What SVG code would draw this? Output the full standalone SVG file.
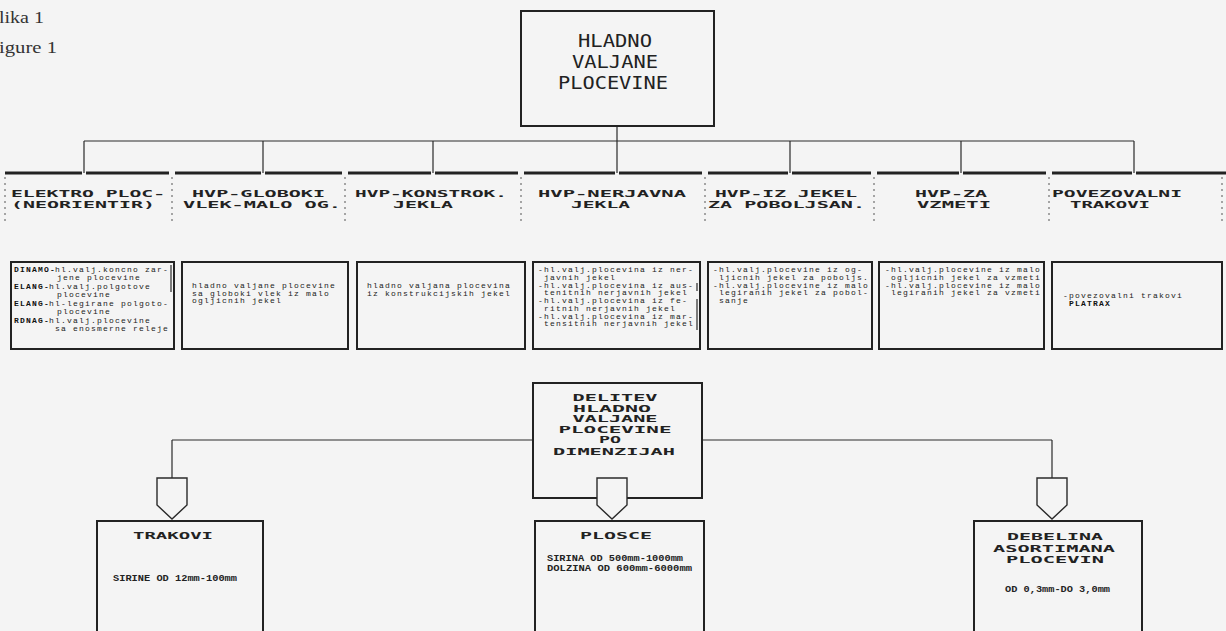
<svg xmlns="http://www.w3.org/2000/svg" width="1226" height="631" viewBox="0 0 1226 631">
<style>
.ln{stroke:#2a2a2a;stroke-width:1.2;fill:none}
.bar{stroke:#222;stroke-width:3.2;fill:none}
.dot{stroke:#555;stroke-width:1;stroke-dasharray:2 4;fill:none}
.box{stroke:#222;stroke-width:2;fill:none}
.pent{stroke:#2a2a2a;stroke-width:1.4;fill:#f4f4f4}
.cap{font-family:"Liberation Serif",serif;font-size:17px;fill:#333}
.big{font-family:"DejaVu Sans Mono",monospace;font-size:18px;fill:#222;text-anchor:middle}
.hd{font-family:"DejaVu Sans Mono",monospace;font-size:9.5px;font-weight:bold;fill:#222}
.hc{font-family:"DejaVu Sans Mono",monospace;font-size:9.5px;font-weight:bold;fill:#222;text-anchor:middle}
.tx{font-family:"Liberation Mono",monospace;font-size:8px;letter-spacing:1.2px;fill:#222}
.tb{font-family:"Liberation Mono",monospace;font-size:8px;letter-spacing:1.2px;font-weight:bold;fill:#111}
.sm{font-family:"Liberation Mono",monospace;font-size:8.5px;font-weight:bold;fill:#222}
</style>
<rect width="1226" height="631" fill="#f4f4f4"/>
<text class="cap" x="-1" y="23" textLength="45" lengthAdjust="spacingAndGlyphs">lika 1</text>
<text class="cap" x="-1" y="53" textLength="58" lengthAdjust="spacingAndGlyphs">igure 1</text>

<g id="connectors">
<path class="ln" d="M617 126V141M84 141H1134M84 141V173M263 141V173M433 141V173M617 141V173M790 141V173M961 141V173M1134 141V173"/>
<path class="bar" d="M5 173H82M86 173H169M175 173H261M265 173H342M348 173H431M435 173H518M524 173H615M619 173H702M708 173H788M792 173H871M877 173H959M963 173H1046M1052 173H1132M1136 173H1226"/>
<path class="dot" d="M5 177V224M172 177V224M345 177V224M521 177V224M705 177V224M874 177V224M1049 177V224M1222 177V224"/>
<path class="ln" d="M172 440H533M702 440H1052M172 440V478M1052 440V478"/>
</g>

<g id="n-top">
<rect class="box" x="521" y="11" width="193" height="115"/>
<text class="big" x="615" y="47" textLength="74" lengthAdjust="spacingAndGlyphs">HLADNO</text>
<text class="big" x="615" y="68" textLength="86" lengthAdjust="spacingAndGlyphs">VALJANE</text>
<text class="big" x="613" y="89" textLength="110" lengthAdjust="spacingAndGlyphs">PLOCEVINE</text>
</g>

<g id="h1"><text class="hd" x="11" y="197" textLength="154" lengthAdjust="spacingAndGlyphs">ELEKTRO PLOC-</text><text class="hd" x="11" y="208" textLength="144" lengthAdjust="spacingAndGlyphs">(NEORIENTIR)</text></g>
<g id="h2"><text class="hd" x="192" y="197" textLength="133" lengthAdjust="spacingAndGlyphs">HVP-GLOBOKI</text><text class="hd" x="183" y="208" textLength="158" lengthAdjust="spacingAndGlyphs">VLEK-MALO OG.</text></g>
<g id="h3"><text class="hd" x="355" y="197" textLength="152" lengthAdjust="spacingAndGlyphs">HVP-KONSTROK.</text><text class="hd" x="393" y="208" textLength="60" lengthAdjust="spacingAndGlyphs">JEKLA</text></g>
<g id="h4"><text class="hd" x="538" y="197" textLength="148" lengthAdjust="spacingAndGlyphs">HVP-NERJAVNA</text><text class="hd" x="571" y="208" textLength="59" lengthAdjust="spacingAndGlyphs">JEKLA</text></g>
<g id="h5"><text class="hd" x="715" y="197" textLength="142" lengthAdjust="spacingAndGlyphs">HVP-IZ JEKEL</text><text class="hd" x="708" y="208" textLength="157" lengthAdjust="spacingAndGlyphs">ZA POBOLJSAN.</text></g>
<g id="h6"><text class="hd" x="915" y="197" textLength="72" lengthAdjust="spacingAndGlyphs">HVP-ZA</text><text class="hd" x="917" y="208" textLength="74" lengthAdjust="spacingAndGlyphs">VZMETI</text></g>
<g id="h7"><text class="hd" x="1052" y="197" textLength="130" lengthAdjust="spacingAndGlyphs">POVEZOVALNI</text><text class="hd" x="1070" y="208" textLength="80" lengthAdjust="spacingAndGlyphs">TRAKOVI</text></g>

<g id="b1">
<rect class="box" x="11" y="262" width="163" height="87"/>
<path class="ln" d="M171 265V292"/>
<text class="tb" x="14" y="272">DINAMO-</text><text class="tx" x="55" y="272">hl.valj.koncno zar-</text>
<text class="tx" x="57" y="280">jene plocevine</text>
<text class="tb" x="14" y="289">ELANG-</text><text class="tx" x="49" y="289">hl.valj.polgotove</text>
<text class="tx" x="57" y="297">plocevine</text>
<text class="tb" x="14" y="306">ELANG-</text><text class="tx" x="49" y="306">hl-legirane polgoto-</text>
<text class="tx" x="57" y="314">plocevine</text>
<text class="tb" x="14" y="323">RDNAG-</text><text class="tx" x="49" y="323">hl.valj.plocevine</text>
<text class="tx" x="55" y="331">sa enosmerne releje</text>
</g>
<g id="b2">
<rect class="box" x="182" y="262" width="166" height="87"/>
<text class="tx" x="192" y="288">hladno valjane plocevine</text>
<text class="tx" x="192" y="295.5">sa globoki vlek iz malo</text>
<text class="tx" x="192" y="303">ogljicnih jekel</text>
</g>
<g id="b3">
<rect class="box" x="357" y="262" width="168" height="87"/>
<text class="tx" x="367" y="288">hladno valjana plocevina</text>
<text class="tx" x="367" y="295.5">iz konstrukcijskih jekel</text>
</g>
<g id="b4">
<rect class="box" x="533" y="262" width="167" height="87"/>
<path class="ln" d="M697 283V291M697 299V330"/>
<text class="tx" x="538" y="272">-hl.valj.plocevina iz ner-</text>
<text class="tx" x="544" y="279.5">javnih jekel</text>
<text class="tx" x="538" y="287.5">-hl.valj.plocevina iz aus-</text>
<text class="tx" x="544" y="295">tenitnih nerjavnih jekel</text>
<text class="tx" x="538" y="303">-hl.valj.plocevina iz fe-</text>
<text class="tx" x="544" y="310.5">ritnih nerjavnih jekel</text>
<text class="tx" x="538" y="318.5">-hl.valj.plocevina iz mar-</text>
<text class="tx" x="544" y="326">tensitnih nerjavnih jekel</text>
</g>
<g id="b5">
<rect class="box" x="708" y="262" width="164" height="87"/>
<text class="tx" x="713" y="272">-hl.valj.plocevine iz og-</text>
<text class="tx" x="719" y="279.5">ljicnih jekel za poboljs.</text>
<text class="tx" x="713" y="287.5">-hl.valj.plocevine iz malo</text>
<text class="tx" x="719" y="295">legiranih jekel za pobol-</text>
<text class="tx" x="719" y="303">sanje</text>
</g>
<g id="b6">
<rect class="box" x="879" y="262" width="165" height="87"/>
<text class="tx" x="885" y="272">-hl.valj.plocevine iz malo</text>
<text class="tx" x="891" y="279.5">ogljicnih jekel za vzmeti</text>
<text class="tx" x="885" y="287.5">-hl.valj.plocevine iz malo</text>
<text class="tx" x="891" y="295">legiranih jekel za vzmeti</text>
</g>
<g id="b7">
<rect class="box" x="1052" y="262" width="170" height="87"/>
<text class="tx" x="1063" y="298">-povezovalni trakovi</text>
<text class="tb" x="1069" y="305.5">PLATRAX</text>
</g>

<g id="n-delitev">
<rect class="box" x="533" y="383" width="169" height="115"/>
<text class="hc" x="615" y="401" textLength="85" lengthAdjust="spacingAndGlyphs">DELITEV</text>
<text class="hc" x="612" y="411.5" textLength="78" lengthAdjust="spacingAndGlyphs">HLADNO</text>
<text class="hc" x="615" y="422" textLength="85" lengthAdjust="spacingAndGlyphs">VALJANE</text>
<text class="hc" x="615" y="432.5" textLength="113" lengthAdjust="spacingAndGlyphs">PLOCEVINE</text>
<text class="hc" x="610" y="443" textLength="22" lengthAdjust="spacingAndGlyphs">PO</text>
<text class="hc" x="614" y="455" textLength="122" lengthAdjust="spacingAndGlyphs">DIMENZIJAH</text>
</g>

<g id="n-trakovi">
<path class="pent" d="M157 478H187V505L172 519L157 505Z"/>
<rect class="box" x="97" y="521" width="166" height="120"/>
<text class="hc" x="173" y="539" textLength="80" lengthAdjust="spacingAndGlyphs">TRAKOVI</text>
<text class="sm" x="113" y="581" textLength="124" lengthAdjust="spacingAndGlyphs">SIRINE OD 12mm-100mm</text>
</g>
<g id="n-plosce">
<path class="pent" d="M597 478H627V505L612 519L597 505Z"/>
<rect class="box" x="535" y="521" width="169" height="120"/>
<text class="hc" x="616" y="539" textLength="72" lengthAdjust="spacingAndGlyphs">PLOSCE</text>
<text class="sm" x="547" y="561" textLength="136" lengthAdjust="spacingAndGlyphs">SIRINA OD 500mm-1000mm</text>
<text class="sm" x="547" y="571" textLength="145" lengthAdjust="spacingAndGlyphs">DOLZINA OD 600mm-6000mm</text>
</g>
<g id="n-debelina">
<path class="pent" d="M1037 478H1067V505L1052 519L1037 505Z"/>
<rect class="box" x="974" y="521" width="168" height="120"/>
<text class="hc" x="1055" y="540" textLength="96" lengthAdjust="spacingAndGlyphs">DEBELINA</text>
<text class="hc" x="1054" y="551.5" textLength="122" lengthAdjust="spacingAndGlyphs">ASORTIMANA</text>
<text class="hc" x="1055" y="563" textLength="98" lengthAdjust="spacingAndGlyphs">PLOCEVIN</text>
<text class="sm" x="1005" y="592" textLength="105" lengthAdjust="spacingAndGlyphs">OD 0,3mm-DO 3,0mm</text>
</g>
</svg>
